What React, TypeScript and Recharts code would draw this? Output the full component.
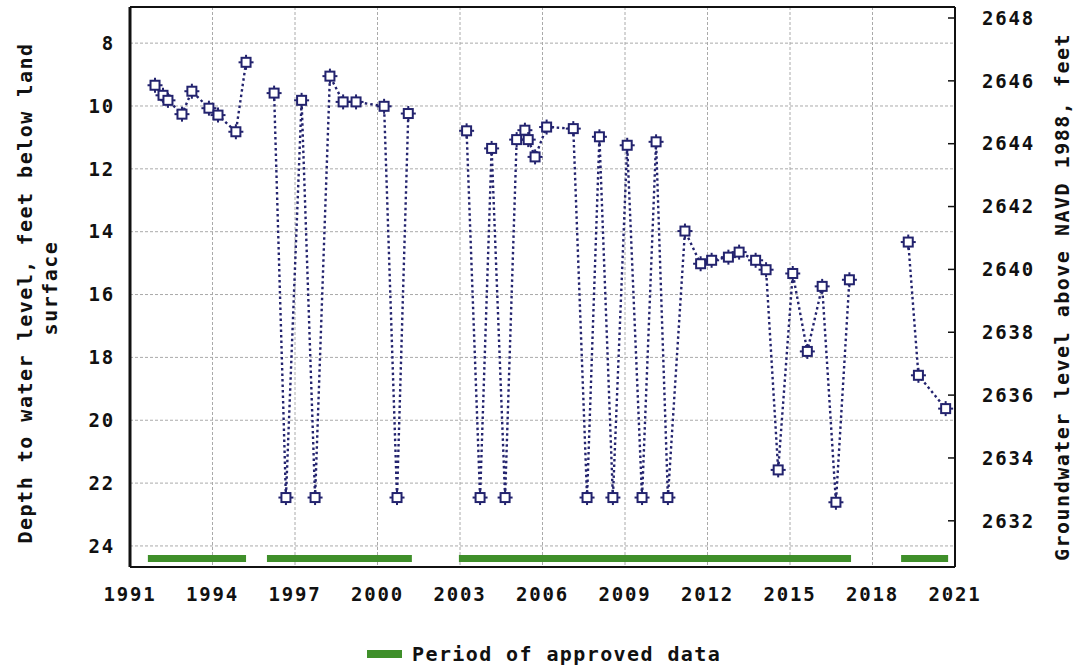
import React from "react";
import {
  ComposedChart,
  Line,
  XAxis,
  YAxis,
  CartesianGrid,
  ReferenceLine,
} from "recharts";

// measurement dates (decimal years) and depth to water, feet below land surface
const segmentYears: number[][] = [
  [1991.91, 1992.2, 1992.38, 1992.89, 1993.25, 1993.87, 1994.2, 1994.85, 1995.22],
  [1996.24, 1996.67, 1997.24, 1997.73, 1998.27, 1998.75, 1999.22, 2000.24, 2000.71, 2001.12],
  [
    2003.24, 2003.73, 2004.15, 2004.64, 2005.06, 2005.36, 2005.48, 2005.73, 2006.15, 2007.12,
    2007.62, 2008.07, 2008.56, 2009.08, 2009.62, 2010.13, 2010.56, 2011.18, 2011.75, 2012.15,
    2012.76, 2013.15, 2013.75, 2014.13, 2014.57, 2015.1, 2015.63, 2016.17, 2016.67, 2017.16,
  ],
  [2019.3, 2019.67, 2020.66],
];
const segmentDepths: number[][] = [
  [9.34, 9.66, 9.82, 10.26, 9.53, 10.07, 10.29, 10.82, 8.61],
  [9.59, 22.46, 9.82, 22.46, 9.05, 9.87, 9.87, 10.01, 22.46, 10.24],
  [
    10.79, 22.46, 11.35, 22.46, 11.07, 10.77, 11.07, 11.62, 10.67, 10.72,
    22.46, 10.98, 22.46, 11.25, 22.46, 11.14, 22.46, 13.98, 15.02, 14.91,
    14.81, 14.65, 14.91, 15.21, 21.58, 15.33, 17.81, 15.74, 22.61, 15.53,
  ],
  [14.33, 18.57, 19.63],
];

// periods of approved data
const approvedStart = [1991.65, 1995.98, 2002.96, 2019.04];
const approvedEnd = [1995.22, 2001.25, 2017.22, 2020.75];

const yearTicks = [1991, 1994, 1997, 2000, 2003, 2006, 2009, 2012, 2015, 2018, 2021];
const depthTicks = [8, 10, 12, 14, 16, 18, 20, 22, 24];
const altitudeTicks = [2632, 2634, 2636, 2638, 2640, 2642, 2644, 2646, 2648];

const landSurface = 2655.2;
const depthDomain: [number, number] = [6.85, 24.67];
const altDomain: [number, number] = [landSurface - depthDomain[1], landSurface - depthDomain[0]];

const FONT = "'DejaVu Sans Mono', monospace";
const INK = "#111";
const NAVY = "#23236e";
const GREEN = "#3f8f2a";
const BAR_DEPTH = 24.4;

const segments = segmentYears.map((ys, i) =>
  ys.map((year, j) => ({ year, depth: segmentDepths[i][j] }))
);

const Marker = (props: any) => {
  const { cx, cy } = props;
  if (cx == null || cy == null) return null;
  return (
    <g stroke={NAVY} strokeWidth={2} fill="#fff">
      <rect x={cx - 4.5} y={cy - 4.5} width={9} height={9} />
      <line x1={cx} y1={cy - 7.5} x2={cx} y2={cy - 4.5} />
      <line x1={cx} y1={cy + 4.5} x2={cx} y2={cy + 7.5} />
      <line x1={cx - 7.5} y1={cy} x2={cx - 4.5} y2={cy} />
      <line x1={cx + 4.5} y1={cy} x2={cx + 7.5} y2={cy} />
    </g>
  );
};

const RightTick = (props: any) => {
  const { x, y, payload } = props;
  return (
    <g>
      <line x1={x - 34} x2={x - 27} y1={y} y2={y} stroke={INK} strokeWidth={1.5} />
      <text
        x={x}
        y={y}
        dy="0.355em"
        textAnchor="start"
        fontFamily={FONT}
        fontWeight="bold"
        fontSize={19}
        letterSpacing={1.8}
        fill={INK}
      >
        {payload.value}
      </text>
    </g>
  );
};

const titleStyle = {
  fontFamily: FONT,
  fontWeight: "bold" as const,
  fontSize: 20,
  letterSpacing: 1.5,
  fill: INK,
};

const LeftTitle = (props: any) => {
  const { x, y, height } = props.viewBox;
  const cy = y + height / 2;
  return (
    <g>
      <text
        x={x + 25}
        y={cy + 6}
        transform={`rotate(-90, ${x + 25}, ${cy + 6})`}
        textAnchor="middle"
        dominantBaseline="central"
        {...titleStyle}
      >
        Depth to water level, feet below land
      </text>
      <text
        x={x + 50}
        y={cy + 1}
        transform={`rotate(-90, ${x + 50}, ${cy + 1})`}
        textAnchor="middle"
        dominantBaseline="central"
        {...titleStyle}
      >
        surface
      </text>
    </g>
  );
};

const RightTitle = (props: any) => {
  const { x, y, height } = props.viewBox;
  const cy = y + height / 2 + 10;
  return (
    <text
      x={x + 107}
      y={cy}
      transform={`rotate(-90, ${x + 107}, ${cy})`}
      textAnchor="middle"
      dominantBaseline="central"
      {...titleStyle}
    >
      Groundwater level above NAVD 1988, feet
    </text>
  );
};

const tickStyle = {
  fontFamily: FONT,
  fontWeight: "bold",
  fontSize: 19,
  letterSpacing: 1.8,
  fill: INK,
};

export default function App() {
  return (
    <div style={{ position: "absolute", left: 0, top: 0, width: 1084, height: 672, background: "#fff" }}>
      <ComposedChart width={1084} height={672} margin={{ top: 7, right: 0, bottom: 0, left: 0 }}>
        <CartesianGrid
          yAxisId="left"
          stroke="#aaaaaa"
          strokeDasharray="3 2"
          horizontalValues={depthTicks}
          verticalValues={yearTicks}
        />
        <XAxis
          dataKey="year"
          type="number"
          domain={[1991, 2021]}
          ticks={yearTicks}
          allowDataOverflow
          height={105}
          axisLine={{ stroke: INK, strokeWidth: 2 }}
          tickLine={false}
          tickSize={6}
          tickMargin={15}
          tick={tickStyle}
        />
        <YAxis
          yAxisId="left"
          type="number"
          reversed
          domain={depthDomain}
          ticks={depthTicks}
          allowDataOverflow
          width={130}
          axisLine={{ stroke: INK, strokeWidth: 3 }}
          tickLine={false}
          tickSize={6}
          tickMargin={9}
          tick={tickStyle}
          label={{ content: LeftTitle }}
        />
        <YAxis
          yAxisId="right"
          orientation="right"
          type="number"
          domain={altDomain}
          ticks={altitudeTicks}
          allowDataOverflow
          width={129}
          axisLine={{ stroke: INK, strokeWidth: 2 }}
          tickLine={false}
          tickSize={0}
          tickMargin={27}
          tick={<RightTick />}
          label={{ content: RightTitle }}
        />
        <ReferenceLine yAxisId="left" y={depthDomain[0]} stroke={INK} strokeWidth={2} />
        {approvedStart.map((s, i) => (
          <ReferenceLine
            key={"ap" + i}
            yAxisId="left"
            segment={[
              { x: s, y: BAR_DEPTH },
              { x: approvedEnd[i], y: BAR_DEPTH },
            ]}
            stroke={GREEN}
            strokeWidth={7}
          />
        ))}
        {segments.map((seg, i) => (
          <Line
            key={"seg" + i}
            yAxisId="left"
            data={seg}
            dataKey="depth"
            type="linear"
            stroke={NAVY}
            strokeWidth={2.4}
            strokeDasharray="2.5 3"
            dot={<Marker />}
            activeDot={false}
            isAnimationActive={false}
            legendType="none"
          />
        ))}
      </ComposedChart>
      <div
        style={{
          position: "absolute",
          left: 367,
          top: 642,
          display: "flex",
          alignItems: "center",
          fontFamily: FONT,
          fontWeight: "bold",
          fontSize: 20,
          letterSpacing: 1.4,
          color: INK,
          whiteSpace: "nowrap",
        }}
      >
        <span style={{ display: "inline-block", width: 35, height: 8, background: GREEN, marginRight: 10 }} />
        <span>Period of approved data</span>
      </div>
    </div>
  );
}
